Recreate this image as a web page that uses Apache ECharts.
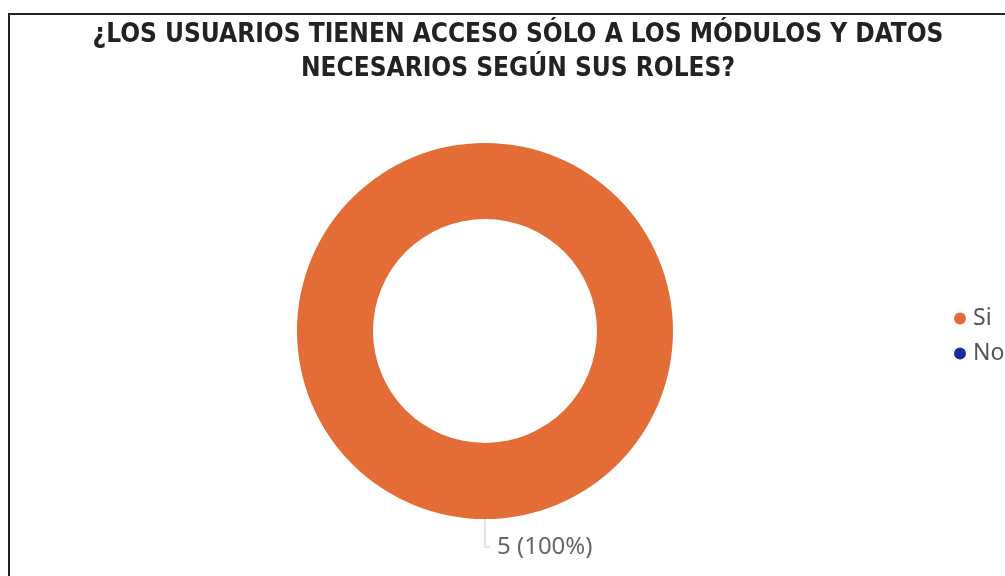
<!DOCTYPE html>
<html>
<head>
<meta charset="utf-8">
<script src="https://cdn.jsdelivr.net/npm/echarts@6/dist/echarts.min.js"></script>
<style>
  html, body { margin: 0; padding: 0; background: #fff; }
  #chart { width: 1005px; height: 576px; }
</style>
</head>
<body>
<div id="chart"></div>
<script>
// Survey answers and counts
const categories = ['Si', 'No'];
const counts = [5, 0];
const colors = ['#E46C37', '#1A2E9E'];
const titleLines = [
  '¿LOS USUARIOS TIENEN ACCESO SÓLO A LOS MÓDULOS Y DATOS',
  'NECESARIOS SEGÚN SUS ROLES?'
];

const total = counts.reduce((a, b) => a + b, 0);

const chart = echarts.init(document.getElementById('chart'), null, { renderer: 'canvas' });

chart.setOption({
  animation: false,
  backgroundColor: '#fff',
  title: {
    text: titleLines.join('\n'),
    left: 513,
    textAlign: 'center',
    top: 13,
    textStyle: {
      fontFamily: 'DejaVu Sans Condensed',
      fontWeight: 'bold',
      fontSize: 26,
      lineHeight: 34,
      color: '#222'
    }
  },
  legend: {
    orient: 'vertical',
    left: 954,
    top: 307,
    padding: 0,
    itemWidth: 12,
    itemHeight: 12,
    itemGap: 12,
    icon: 'circle',
    data: categories,
    textStyle: {
      fontFamily: 'Noto Sans',
      fontSize: 23,
      color: '#555',
      padding: [0, 0, 0, 2]
    }
  },
  graphic: [{
    type: 'rect',
    shape: { x: 9, y: 14, width: 1100, height: 700 },
    style: { fill: 'none', stroke: '#222', lineWidth: 2 },
    silent: true
  }],
  series: [{
    type: 'pie',
    center: [485, 331],
    radius: [112, 188],
    startAngle: 90,
    avoidLabelOverlap: false,
    stillShowZeroSum: false,
    label: {
      show: true,
      position: 'outside',
      formatter: p => p.value + ' (' + Math.round(p.value / total * 100) + '%)',
      fontFamily: 'Noto Sans',
      fontSize: 24,
      color: '#666',
      distanceToLabelLine: 7
    },
    labelLine: {
      show: true,
      length: 28,
      length2: 5,
      lineStyle: { color: '#c8c8c8', width: 1 }
    },
    emphasis: { disabled: true },
    data: categories.map((name, i) => ({
      name,
      value: counts[i],
      itemStyle: { color: colors[i] },
      label: { show: counts[i] > 0 },
      labelLine: { show: counts[i] > 0 }
    }))
  }]
});
</script>
</body>
</html>
